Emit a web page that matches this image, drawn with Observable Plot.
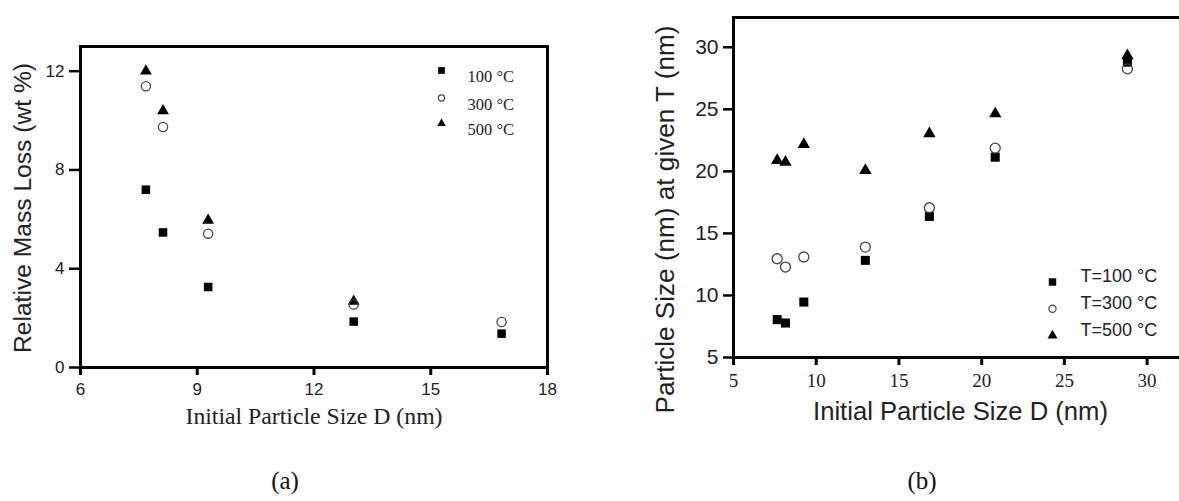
<!DOCTYPE html>
<html>
<head>
<meta charset="utf-8">
<script src="https://cdn.jsdelivr.net/npm/d3@7"></script>
<script src="https://cdn.jsdelivr.net/npm/@observablehq/plot@0.6"></script>
<style>
  html, body { margin: 0; padding: 0; background: #fff; }
  #root { position: relative; width: 1179px; height: 501px; overflow: hidden; background: #fff; }
  .panel { position: absolute; top: 0; }
  .cap { position: absolute; top: 468px; font-family: "Liberation Serif", "DejaVu Serif", serif; font-size: 25px; line-height: 1; transform: translateX(-50%); color: #111; }
</style>
</head>
<body>
<div id="root"></div>
<script>
// ---------- data: panel (a) ----------
const seriesA = ["100 °C", "300 °C", "500 °C"];
const sizeA = [7.68, 8.12, 9.28, 13.02, 16.82];
const lossA100 = [7.2, 5.47, 3.26, 1.86, 1.37];
const lossA300 = [11.39, 9.74, 5.42, 2.55, 1.84];
const lossA500 = [12.0, 10.39, 5.96, 2.68, null];
const ticksAx = [6, 9, 12, 15, 18];
const ticksAy = [0, 4, 8, 12];
const xLabelA = "Initial Particle Size D (nm)";
const yLabelA = "Relative Mass Loss (wt %)";

// ---------- data: panel (b) ----------
const seriesB = ["T=100 °C", "T=300 °C", "T=500 °C"];
const sizeB = [7.64, 8.14, 9.25, 12.97, 16.84, 20.82, 28.81];
const psB100 = [8.05, 7.78, 9.47, 12.83, 16.37, 21.14, 28.8];
const psB300 = [12.96, 12.29, 13.1, 13.9, 17.07, 21.87, 28.26];
const psB500 = [20.88, 20.74, 22.17, 20.07, 23.03, 24.64, 29.33];
const ticksBx = [5, 10, 15, 20, 25, 30];
const ticksBy = [5, 10, 15, 20, 25, 30];
const xLabelB = "Initial Particle Size D (nm)";
const yLabelB = "Particle Size (nm) at given T (nm)";

const captions = ["(a)", "(b)"];

const sans = "Liberation Sans, Arial, Helvetica, sans-serif";
const serif = "Liberation Serif, Times New Roman, serif";

const rows = (xs, ys) => xs.map((x, i) => ({x, y: ys[i]}));

const symbols = ["square", "circle", "triangle"];
const circleStroke = "#444";

function seriesMarks(xs, yss, rs) {
  const marks = [];
  marks.push(Plot.dot(rows(xs, yss[0]), {x: "x", y: "y", symbol: "square", r: rs[0], fill: "#000", stroke: "none"}));
  marks.push(Plot.dot(rows(xs, yss[2]), {x: "x", y: "y", symbol: "triangle", r: rs[2], fill: "#000", stroke: "none"}));
  marks.push(Plot.dot(rows(xs, yss[1]), {x: "x", y: "y", symbol: "circle", r: rs[1], fill: "none", stroke: circleStroke, strokeWidth: 1.3}));
  return marks;
}

function legendMarks(names, anchor, symDx, textDx, dys, rs, font, fontSize) {
  const marks = [];
  names.forEach((name, i) => {
    const sym = symbols[i];
    const opts = {frameAnchor: anchor, dx: symDx, dy: dys[i], symbol: sym, r: rs[i]};
    if (sym === "circle") Object.assign(opts, {fill: "none", stroke: circleStroke, strokeWidth: 1.2});
    else Object.assign(opts, {fill: "#000", stroke: "none"});
    marks.push(Plot.dot([name], opts));
    marks.push(Plot.text([name], {frameAnchor: anchor, dx: textDx, dy: dys[i], text: d => d, textAnchor: "start", fontFamily: font, fontSize, fill: "#222"}));
  });
  return marks;
}

// ---------- panel (a) ----------
const plotA = Plot.plot({
  width: 560,
  height: 501,
  marginLeft: 80,
  marginRight: 13,
  marginTop: 46,
  marginBottom: 134,
  style: {background: "transparent", color: "#000", fontFamily: sans},
  x: {domain: [6, 18]},
  y: {domain: [0, 13]},
  marks: [
    Plot.axisX({ticks: ticksAx, tickSize: 8, tickPadding: 7, strokeWidth: 3, fontSize: 17, fontFamily: sans, fill: "#222", label: null, tickFormat: d => String(d)}),
    Plot.axisY({ticks: ticksAy, tickSize: 11, tickPadding: 5, strokeWidth: 2.5, fontSize: 17, fontFamily: sans, fill: "#222", label: null, tickFormat: d => String(d)}),
    ...seriesMarks(sizeA, [lossA100, lossA300, lossA500], [4.8, 4.6, 4.4]),
    Plot.frame({stroke: "#000", strokeWidth: 3}),
    ...legendMarks(seriesA, "top-right", -106, -80, [24, 51.5, 77], [3.8, 3.1, 3.2], serif, 16.5),
    Plot.text([xLabelA], {frameAnchor: "bottom", dy: 56, text: d => d, fontFamily: serif, fontSize: 23, fill: "#222"}),
    Plot.text([yLabelA], {frameAnchor: "left", dx: -57, dy: 1, rotate: -90, text: d => d, fontFamily: sans, fontSize: 23, fill: "#222"})
  ]
});

// ---------- panel (b) ----------
const plotB = Plot.plot({
  width: 600,
  height: 501,
  marginLeft: 143,
  marginRight: 7,
  marginTop: 17,
  marginBottom: 144,
  style: {background: "transparent", color: "#000", fontFamily: sans},
  x: {domain: [5, 32.2]},
  y: {domain: [5, 32.4]},
  marks: [
    Plot.axisX({ticks: ticksBx, tickSize: 8, tickPadding: 8, strokeWidth: 3, fontSize: 19, fontFamily: serif, fill: "#222", label: null, tickFormat: d => String(d)}),
    Plot.axisY({ticks: ticksBy, tickSize: 10, tickPadding: 5, strokeWidth: 2.5, fontSize: 21, fontFamily: sans, fill: "#222", label: null, tickFormat: d => String(d)}),
    ...seriesMarks(sizeB, [psB100, psB300, psB500], [5.1, 5, 4.6]),
    Plot.frame({stroke: "#000", strokeWidth: 3}),
    ...legendMarks(seriesB, "bottom-right", -131, -103, [-75.5, -48.7, -22], [4.2, 3.6, 3.7], sans, 18),
    Plot.text([xLabelB], {frameAnchor: "bottom", dx: 2, dy: 62, text: d => d, fontFamily: sans, fontSize: 25, fill: "#222"}),
    Plot.text([yLabelB], {frameAnchor: "left", dx: -68, dy: 32, rotate: -90, text: d => d, fontFamily: sans, fontSize: 26, fill: "#222"})
  ]
});

// stretch/condense axis titles to the reference lengths, anchored on their centre
function fitText(svg, label, len) {
  svg.querySelectorAll("text").forEach(t => {
    if (t.textContent === label) {
      t.setAttribute("text-anchor", "start");
      t.style.textAnchor = "start";
      t.setAttribute("x", -len / 2);
      t.setAttribute("textLength", len);
      t.setAttribute("lengthAdjust", "spacingAndGlyphs");
    }
  });
}
fitText(plotA, yLabelA, 290);
fitText(plotA, xLabelA, 257);
fitText(plotB, yLabelB, 388);
fitText(plotB, xLabelB, 295);

const root = document.getElementById("root");
plotA.classList.add("panel");
plotA.style.left = "0px";
plotB.classList.add("panel");
plotB.style.left = "590px";
root.appendChild(plotA);
root.appendChild(plotB);

const capPos = [285, 922];
captions.forEach((c, i) => {
  const d = document.createElement("div");
  d.className = "cap";
  d.style.left = capPos[i] + "px";
  d.textContent = c;
  root.appendChild(d);
});
</script>
</body>
</html>
